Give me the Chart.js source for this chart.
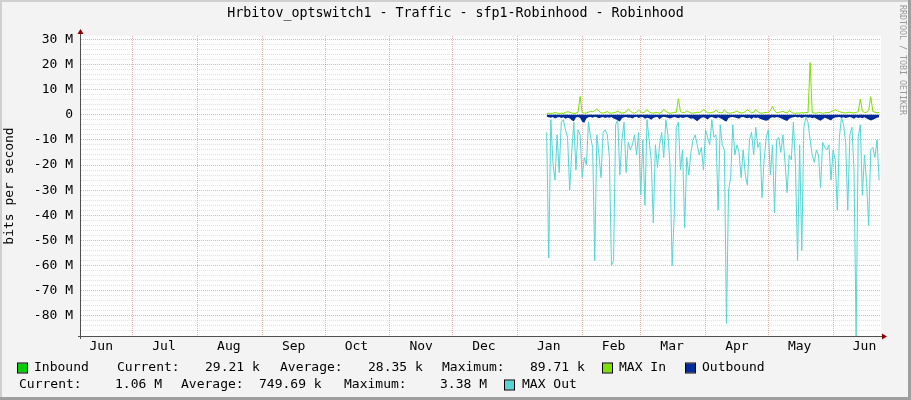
<!DOCTYPE html>
<html>
<head>
<meta charset="utf-8">
<script src="https://cdn.jsdelivr.net/npm/chart.js@4.4.0/dist/chart.umd.min.js"></script>
<style>
  html, body { margin: 0; padding: 0; background: #f3f3f3; }
  canvas { display: block; }
</style>
</head>
<body>
<canvas id="chart" width="911" height="400"></canvas>
<script>
// rrdtool style traffic graph, one value per day starting mid January
const graphTitle = "Hrbitov_optswitch1 - Traffic - sfp1-Robinhood - Robinhood";
const yTitle = "bits per second";
const watermark = "RRDTOOL / TOBI OETIKER";

// x axis in days counted from 1 Jul
const xMin = -24.7, xMax = 357.9;
const monthNames = ["Jun", "Jul", "Aug", "Sep", "Oct", "Nov", "Dec", "Jan", "Feb", "Mar", "Apr", "May", "Jun"];
const monthStarts = [-30, 0, 31, 62, 92, 123, 153, 184, 215, 243, 274, 304, 335];
const firstDay = 198;

// y axis in Mbit/s
const yMin = -88, yMax = 31.3;
const yMajor = [30, 20, 10, 0, -10, -20, -30, -40, -50, -60, -70, -80];

const inbound = [
  0.03, 0.02, 0.03, 0.03, 0.04, 0.03, 0.02, 0.03, 0.03, 0.04, 0.03, 0.03, 0.02, 0.03, 0.03, 0.03, 0.09, 0.03, 0.02, 0.03,
  0.03, 0.04, 0.03, 0.03, 0.05, 0.03, 0.02, 0.03, 0.03, 0.03, 0.02, 0.03, 0.03, 0.03, 0.04, 0.03, 0.02, 0.03, 0.03, 0.04,
  0.03, 0.03, 0.02, 0.03, 0.04, 0.03, 0.03, 0.03, 0.04, 0.03, 0.02, 0.03, 0.03, 0.03, 0.02, 0.03, 0.04, 0.03, 0.03, 0.02,
  0.03, 0.03, 0.03, 0.07, 0.03, 0.03, 0.03, 0.03, 0.03, 0.02, 0.03, 0.03, 0.03, 0.03, 0.03, 0.04, 0.03, 0.03, 0.02, 0.03,
  0.03, 0.04, 0.03, 0.03, 0.02, 0.04, 0.03, 0.03, 0.02, 0.03, 0.03, 0.03, 0.03, 0.02, 0.03, 0.03, 0.04, 0.03, 0.03, 0.03,
  0.04, 0.03, 0.02, 0.02, 0.03, 0.03, 0.03, 0.03, 0.05, 0.03, 0.03, 0.03, 0.03, 0.03, 0.03, 0.02, 0.03, 0.03, 0.02, 0.02,
  0.03, 0.02, 0.03, 0.03, 0.03, 0.03, 0.08, 0.03, 0.03, 0.02, 0.03, 0.03, 0.02, 0.03, 0.03, 0.03, 0.03, 0.03, 0.04, 0.03,
  0.03, 0.03, 0.03, 0.03, 0.03, 0.03, 0.03, 0.03, 0.03, 0.03, 0.06, 0.03, 0.03, 0.03, 0.03, 0.07, 0.03, 0.03, 0.03, 0.03
];

const maxIn = [
  0.5, 0.6, 0.5, 0.6, 0.8, 0.7, 0.5, 0.6, 0.5, 0.9, 1.2, 1.0, 0.7, 0.5, 0.6, 1.0, 7.3, 0.9, 0.6, 0.7,
  1.0, 1.4, 1.2, 1.6, 2.3, 1.4, 0.8, 0.6, 0.9, 1.3, 0.7, 0.6, 0.8, 1.0, 1.4, 0.9, 0.6, 0.8, 1.2, 2.3,
  1.5, 0.8, 0.6, 1.0, 1.8, 1.1, 0.7, 1.2, 2.0, 1.1, 0.7, 0.6, 0.9, 0.8, 0.6, 1.0, 2.2, 1.3, 0.8, 0.6,
  0.7, 1.0, 0.9, 6.3, 1.2, 0.8, 0.9, 1.5, 1.1, 0.7, 0.6, 0.8, 1.0, 0.9, 1.2, 2.2, 1.4, 0.8, 0.7, 0.9,
  1.1, 1.8, 1.0, 0.8, 0.7, 2.0, 1.0, 0.7, 0.6, 0.9, 1.0, 1.5, 0.9, 0.7, 0.8, 1.2, 2.0, 1.3, 0.8, 0.9,
  2.1, 1.2, 0.7, 0.6, 0.8, 0.9, 1.0, 1.5, 3.4, 1.6, 0.8, 0.9, 1.1, 1.4, 0.9, 0.7, 1.7, 1.0, 0.6, 0.5,
  0.7, 0.6, 0.8, 0.7, 0.9, 0.8, 20.7, 0.9, 0.7, 0.6, 1.0, 0.8, 0.6, 0.7, 0.9, 0.8, 1.2, 1.6, 2.0, 1.5,
  1.3, 0.9, 0.8, 0.7, 0.9, 1.0, 0.8, 0.7, 0.9, 1.2, 6.2, 1.4, 0.9, 1.0, 1.6, 7.2, 1.3, 1.0, 0.8, 0.9
];

const outbound = [
  -0.8, -1.0, -1.2, -0.9, -1.5, -1.1, -0.9, -1.3, -1.0, -1.6, -1.2, -1.4, -2.2, -2.6, -1.1, -0.9, -1.3, -2.8, -3.2, -1.5,
  -1.0, -0.9, -1.2, -0.8, -1.0, -1.4, -1.1, -0.9, -1.3, -1.0, -1.2, -0.9, -1.5, -1.8, -2.2, -2.7, -1.4, -1.0, -0.9, -1.2,
  -1.1, -1.5, -1.0, -0.8, -1.3, -1.0, -0.9, -1.6, -1.2, -1.4, -2.0, -1.3, -1.0, -0.9, -1.8, -1.1, -0.8, -1.0, -1.2, -1.5,
  -1.2, -0.9, -1.1, -1.4, -1.0, -1.3, -1.1, -0.9, -1.2, -1.6, -1.4, -2.0, -2.6, -1.8, -1.2, -1.0, -1.3, -1.9, -1.1, -0.9,
  -1.2, -1.5, -1.0, -1.4, -1.8, -2.4, -2.7, -1.3, -1.0, -0.9, -1.1, -1.3, -1.6, -1.0, -0.9, -1.2, -1.4, -1.1, -1.7, -1.0,
  -1.3, -1.1, -1.6, -1.9, -2.2, -2.4, -2.1, -1.3, -1.0, -1.2, -0.9, -1.1, -1.4, -1.8, -2.2, -2.5, -1.6, -1.2, -1.0, -0.8,
  -1.1, -0.9, -1.3, -1.0, -0.8, -1.2, -1.0, -1.4, -1.1, -1.6, -2.0, -2.4, -1.8, -1.2, -1.5, -1.9, -2.3, -1.4, -1.1, -1.0,
  -0.9, -1.2, -1.0, -1.3, -1.1, -0.9, -1.2, -1.6, -1.0, -1.3, -1.1, -1.4, -1.0, -1.5, -1.9, -2.3, -2.0, -1.6, -1.2, -1.0
];

const maxOut = [
  -7, -57, -2, -19, -26, -8, -23, -3, -2, -6, -9, -30, -15, -3, -22, -6, -8, -25, -17, -20,
  -3, -9, -13, -58, -8, -16, -25, -7, -6, -8, -17, -60, -58, -4, -2, -24, -10, -3, -23, -11,
  -14, -12, -8, -16, -7, -32, -10, -36, -2, -10, -18, -43, -12, -21, -12, -7, -17, -2, -8, -20,
  -60, -40, -5, -3, -22, -14, -45, -17, -24, -15, -10, -8, -12, -16, -13, -22, -6, -9, -12, -2,
  -9, -8, -38, -4, -12, -14, -83, -30, -25, -4, -16, -12, -15, -25, -14, -24, -28, -10, -7, -16,
  -5, -13, -11, -33, -18, -9, -6, -24, -12, -39, -10, -9, -15, -8, -19, -31, -16, -18, -3, -20,
  -58, -12, -54, -5, -1, -3, -10, -16, -19, -14, -16, -29, -11, -13, -14, -12, -26, -14, -18, -38,
  -9, -1, -4, -11, -38, -8, -5, -22, -88, -9, -4, -32, -16, -27, -44, -14, -13, -17, -10, -26
];

const legendInbound = ["29.21 k", "28.35 k", "89.71 k"];
const legendOutbound = ["1.06 M", "749.69 k", "3.38 M"];

const colInbound = "#00cc00";
const colMaxIn = "#7ee000";
const colOutbound = "#002a97";
const colMaxOut = "#55d5d5";

const mono = "DejaVu Sans Mono";

function points(values) {
  return values.map((v, i) => ({ x: firstDay + i, y: v }));
}

// month start lines + mid month labels on one axis
const monthLabelAt = {};
monthNames.forEach((m, i) => { monthLabelAt[monthStarts[i] + 15] = m; });

const rrdFrame = {
  id: "rrdFrame",
  beforeDraw(chart) {
    const { ctx, chartArea: a } = chart;
    ctx.save();
    ctx.fillStyle = "#f3f3f3";
    ctx.fillRect(0, 0, chart.width, chart.height);
    ctx.fillStyle = "#ffffff";
    ctx.fillRect(a.left, a.top, a.right - a.left, a.bottom - a.top);
    ctx.restore();
  },
  afterDraw(chart) {
    const { ctx, chartArea: a } = chart;
    const W = chart.width, H = chart.height;
    ctx.save();

    // frame shading
    ctx.fillStyle = "#cfcfcf";
    ctx.fillRect(0, 0, W, 2);
    ctx.fillRect(0, 0, 2, H);
    ctx.fillStyle = "#9e9e9e";
    ctx.fillRect(W - 3, 0, 3, H);
    ctx.fillRect(0, H - 3, W, 3);

    // axes + arrows
    ctx.strokeStyle = "#505050";
    ctx.lineWidth = 1;
    ctx.beginPath();
    ctx.moveTo(a.left - 0.5, a.bottom + 3);
    ctx.lineTo(a.left - 0.5, a.top - 4);
    ctx.moveTo(a.left - 3, a.bottom + 0.5);
    ctx.lineTo(a.right + 3, a.bottom + 0.5);
    ctx.stroke();
    ctx.fillStyle = "#8b0000";
    ctx.beginPath();
    ctx.moveTo(a.left - 3.5, a.top - 2);
    ctx.lineTo(a.left + 2.5, a.top - 2);
    ctx.lineTo(a.left - 0.5, a.top - 7);
    ctx.closePath();
    ctx.fill();
    ctx.beginPath();
    ctx.moveTo(a.right + 1, a.bottom - 2.5);
    ctx.lineTo(a.right + 1, a.bottom + 3.5);
    ctx.lineTo(a.right + 6, a.bottom + 0.5);
    ctx.closePath();
    ctx.fill();

    // title
    ctx.fillStyle = "#000";
    ctx.font = "13.3px '" + mono + "'";
    ctx.textAlign = "center";
    ctx.textBaseline = "middle";
    ctx.fillText(graphTitle, W / 2, 14);

    // watermark
    ctx.save();
    ctx.translate(902, 5);
    ctx.rotate(Math.PI / 2);
    ctx.font = "8.3px '" + mono + "'";
    ctx.fillStyle = "#999";
    ctx.textAlign = "left";
    ctx.fillText(watermark, 0, 0);
    ctx.restore();

    // legend
    ctx.font = "13px '" + mono + "'";
    ctx.textAlign = "left";
    ctx.textBaseline = "middle";
    const swatch = (x, y, c) => {
      ctx.fillStyle = c;
      ctx.fillRect(x, y - 4.5, 9, 9);
      ctx.strokeStyle = "#000";
      ctx.strokeRect(x - 0.5, y - 5, 10, 10);
    };
    const text = (s, x, y) => { ctx.fillStyle = "#000"; ctx.fillText(s, x, y); };
    const r1 = 368, r2 = 385;
    swatch(18, r1, colInbound);
    text("Inbound", 34, r1);
    text("Current:", 117, r1);
    text(legendInbound[0], 205, r1);
    text("Average:", 280, r1);
    text(legendInbound[1], 368, r1);
    text("Maximum:", 442, r1);
    text(legendInbound[2], 530, r1);
    swatch(603, r1, colMaxIn);
    text("MAX In", 619, r1);
    swatch(686, r1, colOutbound);
    text("Outbound", 702, r1);
    text("Current:", 19, r2);
    text(legendOutbound[0], 115, r2);
    text("Average:", 181, r2);
    text(legendOutbound[1], 259, r2);
    text("Maximum:", 344, r2);
    text(legendOutbound[2], 440, r2);
    swatch(505, r2, colMaxOut);
    text("MAX Out", 522, r2);

    ctx.restore();
  }
};

const ctx = document.getElementById("chart").getContext("2d");
new Chart(ctx, {
  type: "line",
  data: {
    datasets: [
      {
        label: "Outbound",
        data: points(outbound),
        borderWidth: 0,
        backgroundColor: colOutbound,
        fill: "origin",
        pointRadius: 0,
        order: 1,
      },
      {
        label: "MAX In",
        data: points(maxIn),
        borderColor: colMaxIn,
        borderWidth: 1,
        fill: false,
        pointRadius: 0,
        order: 2,
      },
      {
        label: "MAX Out",
        data: points(maxOut),
        borderColor: colMaxOut,
        borderWidth: 1,
        fill: false,
        pointRadius: 0,
        order: 3,
      },
      {
        label: "Inbound",
        data: points(inbound),
        borderWidth: 0,
        backgroundColor: colInbound,
        fill: "origin",
        pointRadius: 0,
        order: 4,
      },
    ],
  },
  options: {
    responsive: false,
    animation: false,
    devicePixelRatio: 1,
    layout: { padding: { top: 36, right: 30, left: 0, bottom: 0 } },
    plugins: {
      legend: { display: false },
      tooltip: { enabled: false },
    },
    scales: {
      x: {
        type: "linear",
        min: xMin,
        max: xMax,
        afterFit(scale) { scale.height = 64; },
        afterBuildTicks(scale) {
          const t = [];
          monthStarts.forEach(v => {
            if (v >= xMin && v <= xMax) t.push({ value: v });
            if (v + 15 >= xMin && v + 15 <= xMax) t.push({ value: v + 15 });
          });
          scale.ticks = t;
        },
        grid: {
          drawTicks: false,
          color: c => (c.tick && monthLabelAt[c.tick.value] === undefined) ? "rgba(222,48,48,0.4)" : "rgba(0,0,0,0)",
        },
        border: { display: false, dash: [1, 1] },
        ticks: {
          autoSkip: false,
          maxRotation: 0,
          padding: 3,
          color: "#000",
          font: { family: mono, size: 13 },
          callback: v => monthLabelAt[v] || "",
        },
      },
      y: {
        min: yMin,
        max: yMax,
        afterFit(scale) { scale.width = 81; },
        afterBuildTicks(scale) {
          const t = [];
          for (let v = yMin; v <= yMajor[0]; v += 2) t.push({ value: v });
          scale.ticks = t;
        },
        grid: {
          drawTicks: false,
          color: c => yMajor.includes(c.tick.value) ? "rgba(222,48,48,0.4)" : "rgba(143,143,143,0.25)",
        },
        border: { display: false, dash: [1, 1] },
        ticks: {
          autoSkip: false,
          padding: 8,
          color: "#000",
          font: { family: mono, size: 13 },
          callback: v => yMajor.includes(v) ? (v === 0 ? "0" : v + " M") : "",
        },
        title: {
          display: true,
          text: yTitle,
          color: "#000",
          font: { family: mono, size: 13 },
          padding: { top: 2, bottom: 0 },
        },
      },
    },
  },
  plugins: [rrdFrame],
});
</script>
</body>
</html>
